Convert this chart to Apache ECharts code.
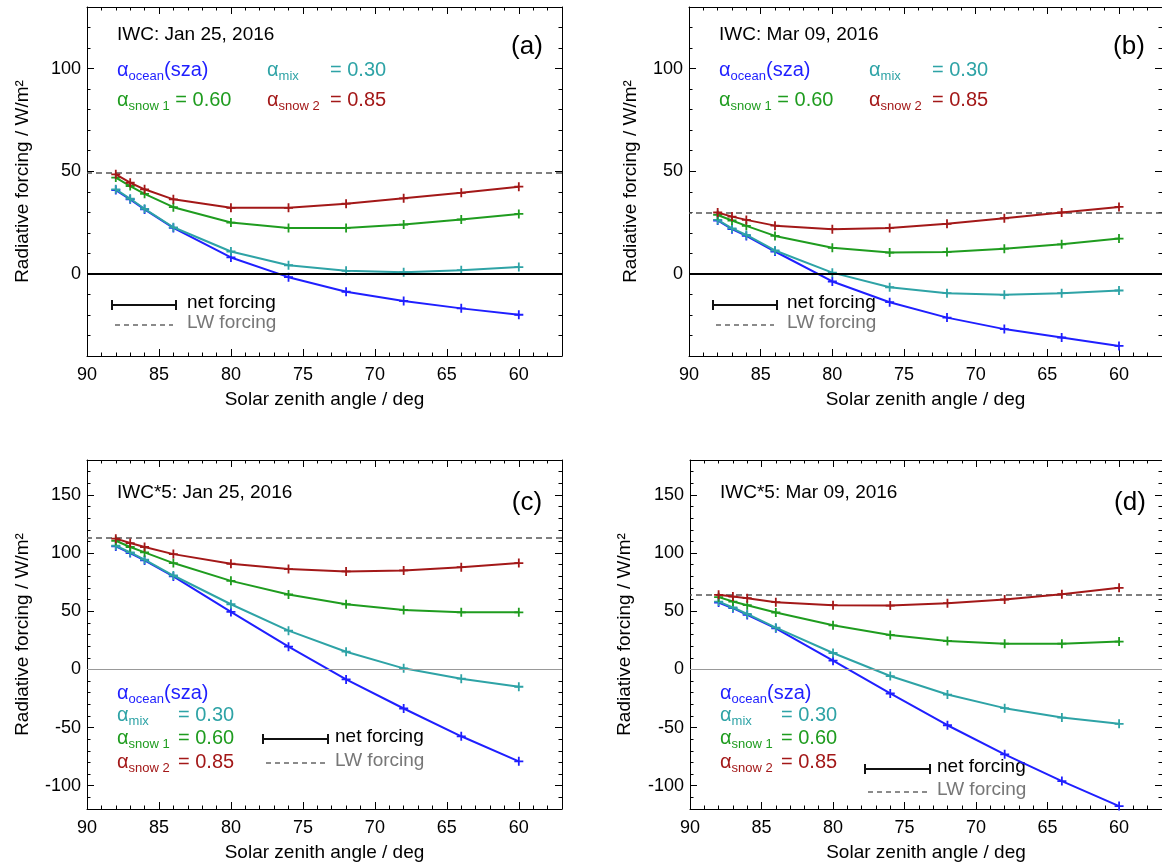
<!DOCTYPE html>
<html>
<head>
<meta charset="utf-8">
<title>Radiative forcing vs solar zenith angle</title>
<script src="https://cdn.jsdelivr.net/npm/echarts@6/dist/echarts.min.js"></script>
<style>
    html, body { margin: 0; padding: 0; background: #fff; }
    #main { width: 1162px; height: 868px; }
</style>
</head>
<body>
<div id="main"></div>
<script>
// solar zenith angle of every run (deg)
var sza = [88, 87, 86, 84, 80, 76, 72, 68, 64, 60];

// (a) IWC: Jan 25, 2016
var aOcean = [40.8, 36.3, 31.4, 22.4, 8.0, -1.6, -8.7, -13.2, -16.8, -19.9];
var aMix = [41.2, 36.6, 31.7, 22.7, 10.9, 4.2, 1.5, 0.8, 1.8, 3.3];
var aSnow1 = [46.9, 42.8, 39.0, 32.5, 25.0, 22.4, 22.4, 24.0, 26.5, 29.2];
var aSnow2 = [48.5, 44.4, 41.2, 36.3, 32.2, 32.2, 34.2, 36.8, 39.5, 42.5];
var aLw = 49.5;

// (b) IWC: Mar 09, 2016
var bOcean = [26.0, 21.8, 18.5, 10.9, -3.7, -13.8, -21.3, -26.9, -31.0, -35.1];
var bMix = [26.3, 22.2, 19.0, 11.4, 0.6, -6.5, -9.4, -10.2, -9.4, -8.1];
var bSnow1 = [28.7, 26.0, 23.4, 18.5, 12.7, 10.4, 10.7, 12.3, 14.4, 17.2];
var bSnow2 = [29.9, 27.9, 26.3, 23.5, 21.8, 22.4, 24.4, 27.1, 29.9, 32.6];
var bLw = 30;

// (c) IWC*5: Jan 25, 2016
var cOcean = [105.7, 100.0, 93.7, 79.9, 49.4, 19.5, -8.6, -33.6, -57.5, -79.0];
var cMix = [106.3, 100.6, 94.3, 80.7, 56.0, 33.3, 15.2, 0.9, -8.0, -14.9];
var cSnow1 = [110.6, 105.2, 100.6, 91.4, 76.1, 64.4, 56.0, 51.1, 49.1, 49.1];
var cSnow2 = [112.4, 108.6, 105.2, 99.1, 90.8, 86.2, 84.2, 85.1, 87.9, 91.4];
var cLw = 113;

// (d) IWC*5: Mar 09, 2016
var dOcean = [57.5, 52.6, 46.8, 35.3, 7.5, -20.7, -48.0, -73.0, -96.0, -117.5];
var dMix = [58.3, 53.2, 47.7, 35.9, 14.1, -5.7, -21.6, -33.3, -41.4, -46.8];
var dSnow1 = [62.1, 58.3, 55.2, 48.9, 37.9, 29.6, 24.4, 22.1, 22.1, 23.9];
var dSnow2 = [64.1, 62.6, 61.2, 57.8, 55.2, 54.9, 56.9, 60.1, 64.7, 70.1];
var dLw = 64;

// tick labels
var xTicks = [60, 65, 70, 75, 80, 85, 90];
var yTicksTop = [0, 50, 100];
var yTicksBottom = [-100, -50, 0, 50, 100, 150];

var FONT = "'Liberation Sans', Arial, sans-serif";
var colors = ['#1f1fff', '#2ea3a6', '#1f9c1f', '#a31818'];
var plusPath = 'path://M4,0h2v4h4v2h-4v4h-2v-4h-4v-2h4z';

var range = function (from, to, step) {
    var out = [];
    for (var v = from; v <= to; v += step) out.push(v);
    return out;
};

var panels = [
    {
        rect: [87, 7, 475, 349], yMin: -40, yMax: 130, yTicks: yTicksTop, nameGap: 55,
        lines: [aOcean, aMix, aSnow1, aSnow2], lw: aLw, zero: {color: '#000', width: 2},
        title: 'IWC: Jan 25, 2016', tag: '(a)', stacked: false,
        legend: {x: 25, x2: 89, tx: 100, y: 298, y2: 318}
    },
    {
        rect: [689, 7, 475, 349], yMin: -40, yMax: 130, yTicks: yTicksTop, nameGap: 49,
        lines: [bOcean, bMix, bSnow1, bSnow2], lw: bLw, zero: {color: '#000', width: 2},
        title: 'IWC: Mar 09, 2016', tag: '(b)', stacked: false,
        legend: {x: 24, x2: 88, tx: 98, y: 298, y2: 318}
    },
    {
        rect: [87, 460, 475, 349], yMin: -120, yMax: 180, yTicks: yTicksBottom, nameGap: 55,
        lines: [cOcean, cMix, cSnow1, cSnow2], lw: cLw, zero: {color: '#999', width: 1},
        title: 'IWC*5: Jan 25, 2016', tag: '(c)', stacked: true,
        legend: {x: 176, x2: 241, tx: 248, y: 279, y2: 303}
    },
    {
        rect: [690, 460, 475, 349], yMin: -120, yMax: 180, yTicks: yTicksBottom, nameGap: 56,
        lines: [dOcean, dMix, dSnow1, dSnow2], lw: dLw, zero: {color: '#999', width: 1},
        title: 'IWC*5: Mar 09, 2016', tag: '(d)', stacked: true,
        legend: {x: 175, x2: 240, tx: 247, y: 309, y2: 332}
    }
];

var xAxes = [], yAxes = [], grids = [], series = [], graphics = [];

var textEl = function (x, y, text, size, color, align) {
    return {
        type: 'text', x: x, y: y, silent: true,
        style: {
            text: text, fontSize: size, fontFamily: FONT, fill: color,
            align: align || 'left', verticalAlign: 'middle'
        }
    };
};

var alphaEl = function (x, y, sub, tail, color) {
    var text = '{a|α}{s|' + sub + '}' + (tail ? '{a|' + tail + '}' : '');
    return {
        type: 'text', x: x, y: y, silent: true,
        style: {
            text: text, verticalAlign: 'middle',
            rich: {
                a: {fontSize: 20, fontFamily: FONT, fill: color, lineHeight: 26},
                s: {fontSize: 13, fontFamily: FONT, fill: color, lineHeight: 26, padding: [12, 0, 0, 0]}
            }
        }
    };
};

panels.forEach(function (p, g) {
    var L = p.rect[0], T = p.rect[1];
    grids.push({left: L, top: T, width: p.rect[2], height: p.rect[3]});

    var xBase = function (pos, major) {
        return {
            gridIndex: g, type: 'value', min: 57, max: 90, inverse: true, position: pos,
            splitLine: {show: false},
            axisLine: {show: major, onZero: false, lineStyle: {color: '#000', width: 1}},
            axisTick: {
                inside: true, length: major ? 7 : 3.5,
                customValues: major ? xTicks : range(57, 90, 1),
                lineStyle: {color: '#000', width: 1}
            },
            axisLabel: {show: false}
        };
    };
    var xMain = xBase('bottom', true);
    xMain.axisLabel = {show: true, customValues: xTicks, fontSize: 18, fontFamily: FONT, color: '#000', margin: 10};
    xMain.name = 'Solar zenith angle / deg';
    xMain.nameLocation = 'middle';
    xMain.nameGap = 34;
    xMain.nameTextStyle = {fontSize: 19, fontFamily: FONT, color: '#000'};
    xAxes.push(xMain, xBase('bottom', false), xBase('top', true), xBase('top', false));

    var yBase = function (pos, major) {
        return {
            gridIndex: g, type: 'value', min: p.yMin, max: p.yMax, position: pos,
            splitLine: {show: false},
            axisLine: {show: major, onZero: false, lineStyle: {color: '#000', width: 1}},
            axisTick: {
                inside: true, length: major ? 7 : 3.5,
                customValues: major ? p.yTicks : range(p.yMin, p.yMax, 10),
                lineStyle: {color: '#000', width: 1}
            },
            axisLabel: {show: false}
        };
    };
    var yMain = yBase('left', true);
    yMain.axisLabel = {show: true, customValues: p.yTicks, fontSize: 18, fontFamily: FONT, color: '#000', margin: 6};
    yMain.name = 'Radiative forcing / W/m²';
    yMain.nameLocation = 'middle';
    yMain.nameGap = p.nameGap;
    yMain.nameTextStyle = {fontSize: 19, fontFamily: FONT, color: '#000'};
    yAxes.push(yMain, yBase('left', false), yBase('right', true), yBase('right', false));

    p.lines.forEach(function (vals, k) {
        var s = {
            type: 'line', xAxisIndex: g * 4, yAxisIndex: g * 4,
            data: sza.map(function (x, i) { return [x, vals[i]]; }),
            symbol: plusPath, symbolSize: 9,
            itemStyle: {color: colors[k]},
            lineStyle: {color: colors[k], width: 2},
            z: 3 + k
        };
        if (k === 0) {
            s.markLine = {
                silent: true, symbol: ['none', 'none'], label: {show: false},
                data: [
                    {yAxis: 0, lineStyle: {color: p.zero.color, width: p.zero.width, type: 'solid'}},
                    {yAxis: p.lw, lineStyle: {color: '#555', width: 1.5, type: [6, 4]}}
                ]
            };
        }
        series.push(s);
    });

    // panel texts
    graphics.push(textEl(L + 30, T + (p.stacked ? 33 : 28), p.title, 19, '#000'));
    graphics.push(textEl(L + 440, T + (p.stacked ? 43 : 40), p.tag, 26, '#000', 'center'));

    if (!p.stacked) {
        graphics.push(alphaEl(L + 30, T + 63, 'ocean', '(sza)', colors[0]));
        graphics.push(alphaEl(L + 180, T + 63, 'mix', '', colors[1]));
        graphics.push(textEl(L + 243, T + 63, '= 0.30', 20, colors[1]));
        graphics.push(alphaEl(L + 30, T + 93, 'snow 1', ' = 0.60', colors[2]));
        graphics.push(alphaEl(L + 180, T + 93, 'snow 2', '', colors[3]));
        graphics.push(textEl(L + 243, T + 93, '= 0.85', 20, colors[3]));
    } else {
        graphics.push(alphaEl(L + 30, T + 233, 'ocean', '(sza)', colors[0]));
        graphics.push(alphaEl(L + 30, T + 255, 'mix', '', colors[1]));
        graphics.push(textEl(L + 91, T + 255, '= 0.30', 20, colors[1]));
        graphics.push(alphaEl(L + 30, T + 278, 'snow 1', '', colors[2]));
        graphics.push(textEl(L + 91, T + 278, '= 0.60', 20, colors[2]));
        graphics.push(alphaEl(L + 30, T + 302, 'snow 2', '', colors[3]));
        graphics.push(textEl(L + 91, T + 302, '= 0.85', 20, colors[3]));
    }

    // line-style key
    var lg = p.legend;
    graphics.push({
        type: 'line', silent: true,
        shape: {x1: L + lg.x, y1: T + lg.y, x2: L + lg.x2, y2: T + lg.y},
        style: {stroke: '#111', lineWidth: 2}
    });
    [lg.x, lg.x2].forEach(function (ex) {
        graphics.push({
            type: 'line', silent: true,
            shape: {x1: L + ex, y1: T + lg.y - 5, x2: L + ex, y2: T + lg.y + 5},
            style: {stroke: '#111', lineWidth: 2}
        });
    });
    graphics.push(textEl(L + lg.tx, T + lg.y - 2, 'net forcing', 19, '#000'));
    graphics.push({
        type: 'line', silent: true,
        shape: {x1: L + lg.x + 3, y1: T + lg.y2, x2: L + lg.x2 - 3, y2: T + lg.y2},
        style: {stroke: '#666', lineWidth: 1.5, lineDash: [5, 4]}
    });
    graphics.push(textEl(L + lg.tx, T + lg.y2 - 2, 'LW forcing', 19, '#777'));
});

var myChart = echarts.init(document.getElementById('main'));
myChart.setOption({
    animation: false,
    backgroundColor: '#fff',
    grid: grids,
    xAxis: xAxes,
    yAxis: yAxes,
    series: series,
    graphic: graphics
});
</script>
</body>
</html>
